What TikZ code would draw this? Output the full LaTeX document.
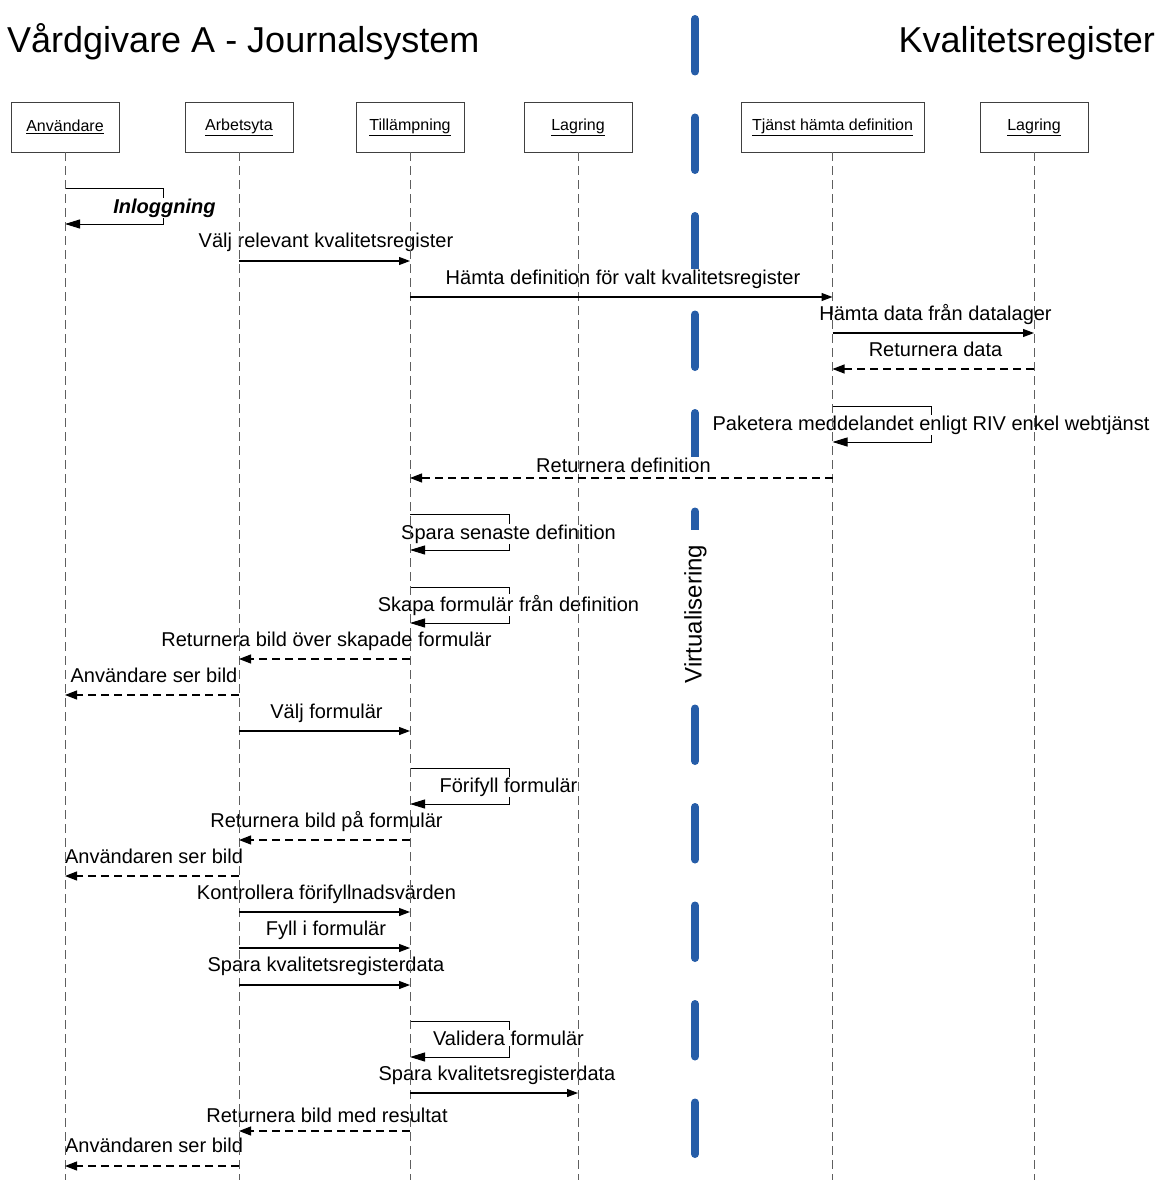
\documentclass[tikz,border=0pt]{standalone}
\usepackage{fontspec}
\setmainfont{Liberation Sans}
\usetikzlibrary{arrows.meta}
\definecolor{virtblue}{RGB}{38,93,168}
\definecolor{lifegray}{RGB}{95,95,95}

\begin{document}
\begin{tikzpicture}[x=1pt,y=-1pt,
  actor/.style={draw=black!75, line width=0.9pt, minimum height=50pt, inner sep=0pt,
    fill=white, font=\fontsize{16}{19}\selectfont},
  lifeline/.style={draw=lifegray, line width=1pt, dash pattern=on 9pt off 5pt},
  msglabel/.style={anchor=base, fill=white, inner sep=0.5pt, font=\fontsize{20}{24}\selectfont},
  title/.style={anchor=base, inner sep=0pt, font=\fontsize{36}{42}\selectfont},
  call/.style={draw=black, line width=1.1pt, -{Triangle[length=11pt,width=8pt]}},
  reply/.style={draw=black, line width=1.1pt, dash pattern=on 8pt off 5pt,
    -{Triangle[length=12pt,width=9pt]}},
  selfcall/.style={draw=black, line width=1pt, -{Triangle[length=15pt,width=9pt]}},
]
\useasboundingbox (0,0) rectangle (1154,1180);

% system titles
\node[title, anchor=base west] (left) at (7,53) {Vårdgivare A - Journalsystem};
\node[title, anchor=base east] (right) at (1155,53) {Kvalitetsregister};

% virtualisation boundary
\coordinate (vtop) at (695,19);
\coordinate (vbot) at (695,1154);
\draw[virtblue, line width=8pt, line cap=round, dash pattern=on 52.5pt off 46pt] (vtop) -- (vbot);
\node[anchor=base, rotate=90, fill=white, inner xsep=15pt, inner ysep=1pt,
  font=\fontsize{24}{28}\selectfont] (virt) at (701.5,614) {Virtualisering};

% participants
\node[actor, minimum width=108pt] (usr) at (65,127)    {\underline{Användare}};
\node[actor, minimum width=108pt] (ws)  at (239,127)   {\underline{Arbetsyta}};
\node[actor, minimum width=108pt] (app) at (410,127)   {\underline{Tillämpning}};
\node[actor, minimum width=108pt] (sto) at (578,127)   {\underline{Lagring}};
\node[actor, minimum width=183pt] (svc) at (832.5,127) {\underline{Tjänst hämta definition}};
\node[actor, minimum width=108pt] (reg) at (1034,127)  {\underline{Lagring}};

% self messages (their labels sit on top of the loop)
\draw[selfcall] (usr |- 0,188) -- ++(98,0) -- ++(0,36) -- (usr |- 0,224);
\draw[selfcall] (svc |- 0,406) -- ++(99,0) -- ++(0,36) -- (svc |- 0,442);
\draw[selfcall] (app |- 0,514) -- ++(99,0) -- ++(0,36) -- (app |- 0,550);
\draw[selfcall] (app |- 0,587) -- ++(99,0) -- ++(0,36) -- (app |- 0,623);
\draw[selfcall] (app |- 0,768) -- ++(99,0) -- ++(0,36) -- (app |- 0,804);
\draw[selfcall] (app |- 0,1021) -- ++(99,0) -- ++(0,36) -- (app |- 0,1057);

% message labels
\node[msglabel, font=\fontsize{20}{24}\selectfont\bfseries\itshape] (t0) at (164.5,213) {Inloggning};
\node[msglabel] (t1)  at (326,247)  {Välj relevant kvalitetsregister};
\node[msglabel] (t2)  at (623,284)  {Hämta definition för valt kvalitetsregister};
\node[msglabel] (t3)  at (935.5,320) {Hämta data från datalager};
\node[msglabel] (t4)  at (935.5,356) {Returnera data};
\node[msglabel] (t5)  at (931,430)  {Paketera meddelandet enligt RIV enkel webtjänst};
\node[msglabel] (t6)  at (623.5,472) {Returnera definition};
\node[msglabel] (t7)  at (508.5,539) {Spara senaste definition};
\node[msglabel] (t8)  at (508.5,611) {Skapa formulär från definition};
\node[msglabel] (t9)  at (326.5,646) {Returnera bild över skapade formulär};
\node[msglabel] (t10) at (154,682)  {Användare ser bild};
\node[msglabel] (t11) at (326.5,718) {Välj formulär};
\node[msglabel] (t12) at (508.5,792) {Förifyll formulär};
\node[msglabel] (t13) at (326.5,827) {Returnera bild på formulär};
\node[msglabel] (t14) at (154,863)  {Användaren ser bild};
\node[msglabel] (t15) at (326.5,899) {Kontrollera förifyllnadsvärden};
\node[msglabel] (t16) at (326,935)  {Fyll i formulär};
\node[msglabel] (t17) at (326,971)  {Spara kvalitetsregisterdata};
\node[msglabel] (t18) at (508.5,1045) {Validera formulär};
\node[msglabel] (t19) at (497,1080) {Spara kvalitetsregisterdata};
\node[msglabel] (t20) at (327,1122) {Returnera bild med resultat};
\node[msglabel] (t21) at (154,1152) {Användaren ser bild};

% lifelines
\foreach \p in {usr,ws,app,sto,svc,reg}
  \draw[lifeline] (\p.south) -- (\p.south |- 0,1180);

% messages between participants
\draw[call]  (ws |- 0,261)  -- (app |- 0,261);
\draw[call]  (app |- 0,297) -- (svc |- 0,297);
\draw[call]  (svc |- 0,333) -- (reg |- 0,333);
\draw[reply] (reg |- 0,369) -- (svc |- 0,369);
\draw[reply] (svc |- 0,478) -- (app |- 0,478);
\draw[reply] (app |- 0,659) -- (ws |- 0,659);
\draw[reply] (ws |- 0,695)  -- (usr |- 0,695);
\draw[call]  (ws |- 0,731)  -- (app |- 0,731);
\draw[reply] (app |- 0,840) -- (ws |- 0,840);
\draw[reply] (ws |- 0,876)  -- (usr |- 0,876);
\draw[call]  (ws |- 0,912)  -- (app |- 0,912);
\draw[call]  (ws |- 0,948)  -- (app |- 0,948);
\draw[call]  (ws |- 0,985)  -- (app |- 0,985);
\draw[call]  (app |- 0,1093) -- (sto |- 0,1093);
\draw[reply] (app |- 0,1131) -- (ws |- 0,1131);
\draw[reply] (ws |- 0,1166)  -- (usr |- 0,1166);

\end{tikzpicture}
\end{document}
